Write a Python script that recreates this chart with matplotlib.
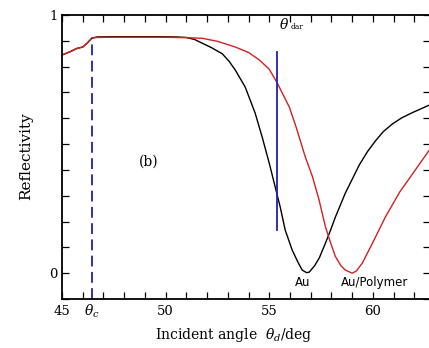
import matplotlib
matplotlib.use("Agg")
import matplotlib.pyplot as plt
from matplotlib.ticker import MultipleLocator, FixedLocator
import matplotlib.transforms as mtransforms

plt.rcParams['font.family'] = ['DejaVu Serif']
plt.rcParams['mathtext.fontset'] = 'dejavuserif'

# Au curve (black)
au_angle = [45.0, 45.4, 45.7, 46.0, 46.2, 46.45, 46.7, 47.5, 48.5, 49.5, 50.5, 51.0,
            51.4, 51.76, 52.2, 52.73, 53.05, 53.36, 53.84, 54.32, 54.66, 55.0, 55.24,
            55.53, 55.77, 56.11, 56.4, 56.59, 56.8, 56.93, 57.2, 57.42, 57.71,
            57.95, 58.19, 58.67, 59.35, 59.75, 60.12, 60.5, 60.94, 61.4, 61.91, 62.75]
au_refl = [0.845, 0.858, 0.870, 0.876, 0.890, 0.911, 0.915, 0.916, 0.916, 0.916, 0.915, 0.913,
           0.905, 0.891, 0.874, 0.850, 0.822, 0.787, 0.721, 0.620, 0.527, 0.426, 0.349,
           0.256, 0.167, 0.089, 0.040, 0.012, 0.002, 0.004, 0.030, 0.060, 0.116,
           0.165, 0.217, 0.310, 0.420, 0.472, 0.512, 0.548, 0.578, 0.602, 0.622, 0.652]

# Au/Polymer curve (red)
poly_angle = [45.0, 45.4, 45.7, 46.0, 46.2, 46.45, 46.7, 47.5, 48.5, 49.5, 50.5, 51.0,
              51.76, 52.5, 53.36, 54.0, 54.52, 55.0, 55.39, 55.97, 56.3, 56.74,
              57.08, 57.4, 57.71, 57.95, 58.19, 58.45, 58.67, 59.0, 59.2,
              59.49, 59.98, 60.6, 61.3, 61.7, 62.05, 62.4, 62.75]
poly_refl = [0.845, 0.858, 0.870, 0.876, 0.890, 0.911, 0.913, 0.914, 0.914, 0.914, 0.913, 0.912,
             0.910, 0.898, 0.876, 0.855, 0.826, 0.790, 0.736, 0.643, 0.565, 0.450,
             0.375, 0.285, 0.180, 0.120, 0.065, 0.030, 0.012, 0.000, 0.008,
             0.039, 0.116, 0.217, 0.315, 0.360, 0.400, 0.440, 0.480]

theta_c = 46.45
theta_c_top = 0.911
theta_dar = 55.39
theta_dar_range = [0.167, 0.857]

x_major = [45, 50, 55, 60]
y_major = [0, 1]

fig = plt.figure(figsize=(4.29, 3.48), dpi=100)
ax = fig.add_axes([62/429, 1-299/348, 1-62/429 + 0.002, (299-15)/348])

ax.plot(au_angle, au_refl, color='black', lw=1.0)
ax.plot(poly_angle, poly_refl, color='#d42020', lw=1.0)

ax.plot([theta_c, theta_c], [-0.1, theta_c_top], color='#2020b0', lw=1.3,
        linestyle=(0, (6, 3)))
ax.plot([theta_dar, theta_dar], theta_dar_range, color='#2020b0', lw=1.3)

ax.set_xlim(45, 62.75)
ax.set_ylim(-0.1, 1.0)

ax.xaxis.set_major_locator(FixedLocator(x_major))
ax.xaxis.set_minor_locator(MultipleLocator(1))
ax.yaxis.set_major_locator(FixedLocator(y_major))
ax.yaxis.set_minor_locator(MultipleLocator(0.1))
ax.set_xticklabels([str(v) for v in x_major])
ax.set_yticklabels([str(v) for v in y_major])
ax.tick_params(which='both', direction='in', top=True, right=True,
               length=5, width=0.9, labelsize=9.5, pad=4)
ax.tick_params(axis='y', pad=3)
for s in ax.spines.values():
    s.set_linewidth(1.3)
ax.spines['right'].set_linewidth(0.6)

trans = mtransforms.blended_transform_factory(ax.transData, fig.transFigure)
ax.text(theta_c, 1-311/348, r'$\theta_c$', transform=trans, ha='center', va='center',
        fontsize=10)

ax.text(55.45, 0.965, r'$\theta$', fontsize=10, ha='left', va='center')
ax.text(56.05, 0.955, 'dar', fontsize=5.5, ha='left', va='center')

ax.text(49.2, 0.43, '(b)', fontsize=10, ha='center', va='center')
ax.text(56.6, -0.035, 'Au', fontsize=8.5, family='DejaVu Sans', ha='center', va='center')
ax.text(60.1, -0.035, 'Au/Polymer', fontsize=8.5, family='DejaVu Sans', ha='center', va='center')

fig.text(234/429, 1-335/348, r'Incident angle  $\theta_d$/deg', fontsize=10,
         ha='center', va='center')
fig.text(26/429, 1-156/348, 'Reflectivity', fontsize=11, rotation=90,
         ha='center', va='center')

fig.savefig('out.png', dpi=100)
